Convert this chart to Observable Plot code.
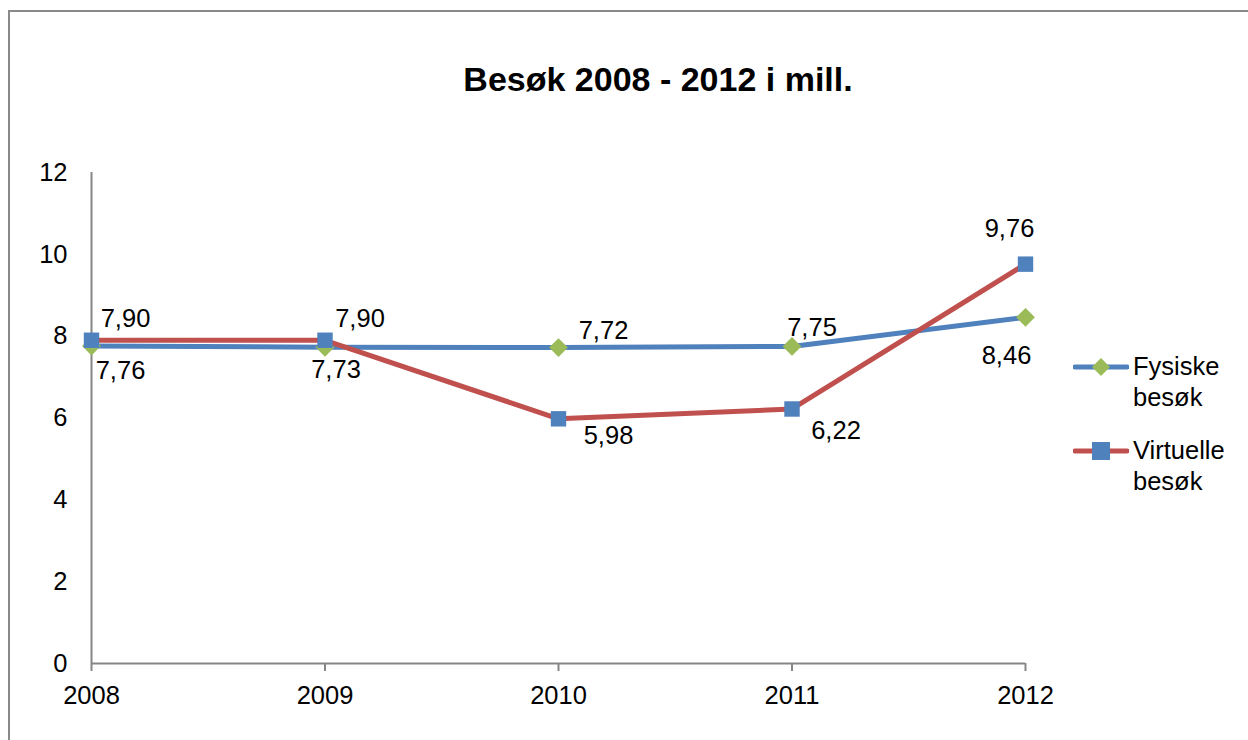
<!DOCTYPE html>
<html>
<head>
<meta charset="utf-8">
<script src="https://cdn.jsdelivr.net/npm/d3@7"></script>
<script src="https://cdn.jsdelivr.net/npm/@observablehq/plot@0.6"></script>
<style>
  html, body { margin: 0; padding: 0; background: #fff; }
  #wrap { position: relative; width: 1248px; height: 740px; overflow: hidden; font-family: "Liberation Sans", Arial, sans-serif; }
  #frame { position: absolute; left: 8px; top: 10px; width: 1400px; height: 900px; border: 2px solid #898989; box-sizing: border-box; }
  #title { position: absolute; left: 0; width: 1316px; top: 57px; text-align: center; font-size: 34px; font-weight: bold; color: #000; line-height: 44px; }
  #chart { position: absolute; left: 0; top: 0; }
  #legend { position: absolute; left: 1073px; top: 351px; font-size: 25.5px; color: #000; line-height: 31px; }
  .item { display: flex; align-items: flex-start; margin-bottom: 22px; }
  .item svg { flex: none; margin-right: 4px; }
</style>
</head>
<body>
<div id="wrap">
  <div id="frame"></div>
  <div id="chart"></div>
  <div id="title">Besøk 2008 - 2012 i mill.</div>
  <div id="legend"></div>
</div>
<script>
const years = [2008, 2009, 2010, 2011, 2012];
const fysiske = [7.76, 7.73, 7.72, 7.75, 8.46];
const virtuelle = [7.90, 7.90, 5.98, 6.22, 9.76];
const seriesNames = ["Fysiske besøk", "Virtuelle besøk"];
const yTicks = [0, 2, 4, 6, 8, 10, 12];

// label placement offsets (layout, not data)
const fysOffsets = [[29, 25], [11, 23], [45, -17], [20, -19], [-19, 38]];
const virOffsets = [[34, -21], [35, -21], [50, 17], [44, 22], [-16, -35]];

const blue = "#4F81BD", red = "#C0504D", green = "#9BBB59", axisGray = "#868686";
const fmt = v => v.toFixed(2).replace(".", ",");
const FS = 25.5;

const fysData = years.map((year, i) => ({year, value: fysiske[i], series: seriesNames[0]}));
const virData = years.map((year, i) => ({year, value: virtuelle[i], series: seriesNames[1]}));

const labelMarks = [];
fysData.forEach((d, i) => labelMarks.push(Plot.text([d], {x: "year", y: "value", text: d => fmt(d.value), dx: fysOffsets[i][0], dy: fysOffsets[i][1], fontSize: FS, fill: "#000"})));
virData.forEach((d, i) => labelMarks.push(Plot.text([d], {x: "year", y: "value", text: d => fmt(d.value), dx: virOffsets[i][0], dy: virOffsets[i][1], fontSize: FS, fill: "#000"})));

const chart = Plot.plot({
  width: 1248,
  height: 740,
  marginLeft: 91,
  marginRight: 223,
  marginTop: 172,
  marginBottom: 77,
  style: {fontFamily: "Liberation Sans, Arial, sans-serif", fontSize: FS + "px", color: "#000", background: "transparent"},
  x: {domain: [2008, 2012], ticks: years, tickFormat: d => String(d), label: null},
  y: {domain: [0, 12], ticks: yTicks, label: null},
  marks: [
    Plot.axisY({ticks: yTicks, tickSize: 0, tickPadding: 24, fontSize: FS, label: null, fill: "#000"}),
    Plot.axisX({ticks: years, tickFormat: d => String(d), tickSize: 8, tickPadding: 14, fontSize: FS, label: null, stroke: axisGray, fill: "#000", strokeWidth: 2}),
    Plot.ruleX([2008], {y1: 0, y2: 12, stroke: axisGray, strokeWidth: 2}),
    Plot.ruleY([0], {x1: 2008, x2: 2012, stroke: axisGray, strokeWidth: 2}),
    Plot.line(fysData, {x: "year", y: "value", stroke: blue, strokeWidth: 5, strokeLinecap: "round", strokeLinejoin: "round"}),
    Plot.line(virData, {x: "year", y: "value", stroke: red, strokeWidth: 5, strokeLinecap: "round", strokeLinejoin: "round"}),
    Plot.dot(fysData, {x: "year", y: "value", symbol: "diamond2", r: 8.5, fill: green, stroke: "none"}),
    Plot.dot(virData, {x: "year", y: "value", symbol: "square", r: 8.7, fill: blue, stroke: "none"}),
    ...labelMarks
  ]
});
document.getElementById("chart").appendChild(chart);

// legend
const legend = document.getElementById("legend");
const legendStyles = [
  {stroke: blue, marker: "diamond", fill: green},
  {stroke: red, marker: "square", fill: blue}
];
seriesNames.forEach((name, i) => {
  const st = legendStyles[i];
  const item = document.createElement("div");
  item.className = "item";
  const ns = "http://www.w3.org/2000/svg";
  const svg = document.createElementNS(ns, "svg");
  svg.setAttribute("width", 56); svg.setAttribute("height", 32);
  const ln = document.createElementNS(ns, "line");
  ln.setAttribute("x1", 2); ln.setAttribute("x2", 54); ln.setAttribute("y1", 16); ln.setAttribute("y2", 16);
  ln.setAttribute("stroke", st.stroke); ln.setAttribute("stroke-width", 5); ln.setAttribute("stroke-linecap", "round");
  svg.appendChild(ln);
  let m;
  if (st.marker === "diamond") {
    m = document.createElementNS(ns, "polygon");
    m.setAttribute("points", "28,7 37,16 28,25 19,16");
  } else {
    m = document.createElementNS(ns, "rect");
    m.setAttribute("x", 19); m.setAttribute("y", 7); m.setAttribute("width", 18); m.setAttribute("height", 18);
  }
  m.setAttribute("fill", st.fill);
  svg.appendChild(m);
  const txt = document.createElement("div");
  txt.innerHTML = name.replace(" ", "<br>");
  item.appendChild(svg);
  item.appendChild(txt);
  legend.appendChild(item);
});
</script>
</body>
</html>
